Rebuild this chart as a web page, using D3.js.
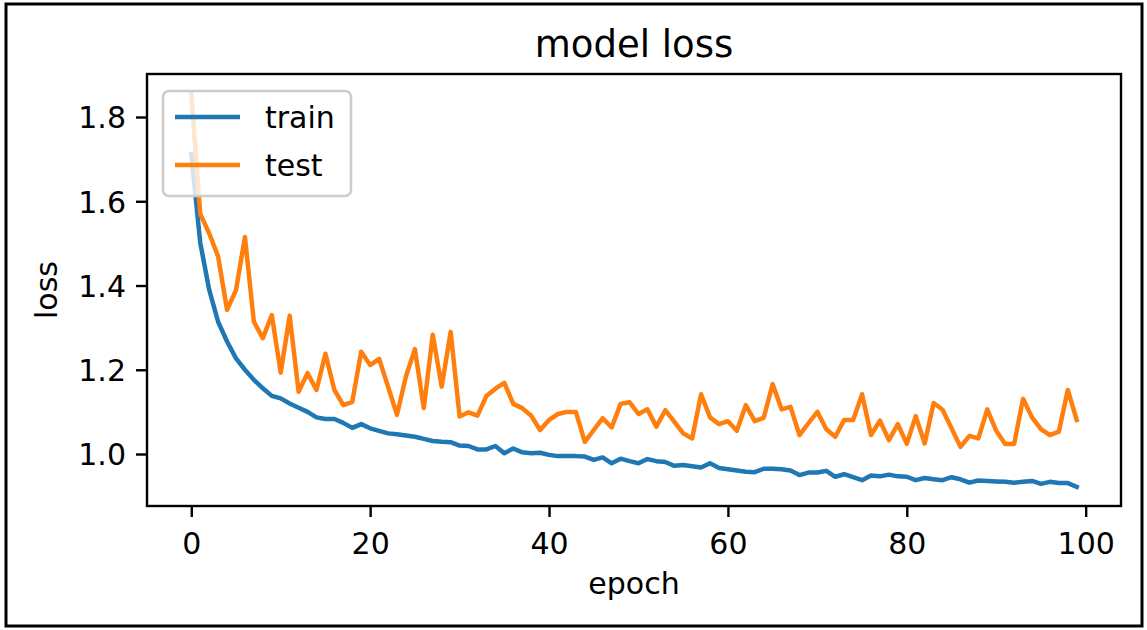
<!DOCTYPE html>
<html>
<head>
<meta charset="utf-8">
<script src="https://cdn.jsdelivr.net/npm/d3@7"></script>
<style>
  html, body { margin: 0; padding: 0; background: #fff; }
  svg { display: block; }
  text { font-family: "DejaVu Sans", sans-serif; fill: #000; }
</style>
</head>
<body>
<svg id="chart" width="1147" height="630"></svg>
<script>
// ---- data ----
const epochs = d3.range(0, 100);
const trainLoss = [
  1.712, 1.502, 1.390, 1.314, 1.267, 1.227, 1.200, 1.176, 1.156, 1.138,
  1.132, 1.120, 1.110, 1.100, 1.087, 1.083, 1.083, 1.074, 1.062, 1.071,
  1.061, 1.055, 1.049, 1.047, 1.044, 1.041, 1.036, 1.031, 1.029, 1.028,
  1.020, 1.019, 1.011, 1.011, 1.019, 1.002, 1.013, 1.004, 1.002, 1.003,
  0.998, 0.995, 0.995, 0.995, 0.994, 0.986, 0.992, 0.978, 0.989, 0.983,
  0.978, 0.988, 0.983, 0.981, 0.972, 0.974, 0.971, 0.968, 0.978, 0.967,
  0.964, 0.961, 0.958, 0.957, 0.965, 0.965, 0.964, 0.961, 0.950, 0.956,
  0.956, 0.960, 0.946, 0.952, 0.945, 0.938, 0.949, 0.947, 0.951, 0.947,
  0.946, 0.938, 0.943, 0.940, 0.938, 0.945, 0.940, 0.932, 0.937, 0.936,
  0.935, 0.934, 0.932, 0.934, 0.936, 0.929, 0.934, 0.931, 0.931, 0.922
];
const testLoss = [
  1.855, 1.570, 1.524, 1.469, 1.342, 1.389, 1.515, 1.314, 1.275, 1.330,
  1.193, 1.328, 1.148, 1.192, 1.152, 1.238, 1.152, 1.116, 1.124, 1.243,
  1.211, 1.226, 1.160, 1.093, 1.184, 1.249, 1.109, 1.283, 1.160, 1.290,
  1.089, 1.099, 1.091, 1.138, 1.155, 1.169, 1.119, 1.109, 1.091, 1.057,
  1.081, 1.095, 1.100, 1.100, 1.029, 1.057, 1.085, 1.063, 1.119, 1.123,
  1.095, 1.106, 1.065, 1.104, 1.077, 1.049, 1.037, 1.142, 1.087, 1.071,
  1.078, 1.055, 1.116, 1.078, 1.086, 1.166, 1.106, 1.112, 1.045, 1.073,
  1.100, 1.059, 1.041, 1.081, 1.081, 1.142, 1.045, 1.079, 1.033, 1.071,
  1.024, 1.090, 1.025, 1.121, 1.105, 1.061, 1.017, 1.043, 1.037, 1.106,
  1.055, 1.024, 1.024, 1.131, 1.087, 1.059, 1.045, 1.053, 1.152, 1.081
];
const xTicks = [0, 20, 40, 60, 80, 100];
const yTicks = [1.0, 1.2, 1.4, 1.6, 1.8];
const seriesNames = ["train", "test"];
const seriesColors = ["#1f77b4", "#ff7f0e"];
const titleText = "model loss";
const xLabel = "epoch";
const yLabel = "loss";

// ---- layout ----
const W = 1147, H = 630;
const plot = { left: 147, right: 1121, top: 74, bottom: 506 };
const FS = 30;

const svg = d3.select("#chart");

// outer frame
svg.append("rect")
  .attr("x", 6).attr("y", 4).attr("width", 1136).attr("height", 622)
  .attr("fill", "#fff").attr("stroke", "#000").attr("stroke-width", 3);

const x = d3.scaleLinear().domain([-4.95, 103.95]).range([plot.left, plot.right]);
const y = d3.scaleLinear().domain([0.8766, 1.9021]).range([plot.bottom, plot.top]);

// clip
svg.append("defs").append("clipPath").attr("id", "clip")
  .append("rect")
  .attr("x", plot.left).attr("y", plot.top)
  .attr("width", plot.right - plot.left).attr("height", plot.bottom - plot.top);

const line = d3.line().x((d, i) => x(epochs[i])).y(d => y(d));

const lines = svg.append("g").attr("clip-path", "url(#clip)");
[trainLoss, testLoss].forEach((s, k) => {
  lines.append("path")
    .datum(s)
    .attr("d", line)
    .attr("fill", "none")
    .attr("stroke", seriesColors[k])
    .attr("stroke-width", 4.5)
    .attr("stroke-linejoin", "round")
    .attr("stroke-linecap", "square");
});

// axes
const xAxis = d3.axisBottom(x).tickValues(xTicks).tickSize(11).tickPadding(8)
  .tickFormat(d3.format("d"));
const gx = svg.append("g").attr("transform", `translate(0,${plot.bottom})`).call(xAxis);
gx.select(".domain").remove();
gx.selectAll(".tick line").attr("stroke", "#000").attr("stroke-width", 2.4);
gx.selectAll(".tick text").attr("font-size", FS).attr("font-family", "DejaVu Sans")
  .attr("dy", null).attr("y", 48);

const yAxis = d3.axisLeft(y).tickValues(yTicks).tickSize(11).tickPadding(10)
  .tickFormat(d3.format(".1f"));
const gy = svg.append("g").attr("transform", `translate(${plot.left},0)`).call(yAxis);
gy.select(".domain").remove();
gy.selectAll(".tick line").attr("stroke", "#000").attr("stroke-width", 2.4);
gy.selectAll(".tick text").attr("font-size", FS).attr("font-family", "DejaVu Sans")
  .attr("dy", "0.36em");

// plot frame
svg.append("rect")
  .attr("x", plot.left).attr("y", plot.top)
  .attr("width", plot.right - plot.left).attr("height", plot.bottom - plot.top)
  .attr("fill", "none").attr("stroke", "#000").attr("stroke-width", 2.4);

// title & labels
svg.append("text").attr("x", (plot.left + plot.right) / 2).attr("y", 57)
  .attr("text-anchor", "middle").attr("font-size", 37).text(titleText);
svg.append("text").attr("x", (plot.left + plot.right) / 2).attr("y", 594)
  .attr("text-anchor", "middle").attr("font-size", FS).text(xLabel);
svg.append("text")
  .attr("transform", `translate(57,${(plot.top + plot.bottom) / 2}) rotate(-90)`)
  .attr("text-anchor", "middle").attr("font-size", FS).text(yLabel);

// legend
const lg = svg.append("g");
lg.append("rect")
  .attr("x", 163).attr("y", 91).attr("width", 188).attr("height", 105)
  .attr("rx", 6).attr("ry", 6)
  .attr("fill", "#fff").attr("fill-opacity", 0.8)
  .attr("stroke", "#cccccc").attr("stroke-width", 2.5);
seriesNames.forEach((name, k) => {
  const cy = 117 + k * 48;
  lg.append("line")
    .attr("x1", 175).attr("x2", 240).attr("y1", cy).attr("y2", cy)
    .attr("stroke", seriesColors[k]).attr("stroke-width", 4.5);
  lg.append("text").attr("x", 265).attr("y", cy + 11)
    .attr("font-size", FS).text(name);
});
</script>
</body>
</html>
